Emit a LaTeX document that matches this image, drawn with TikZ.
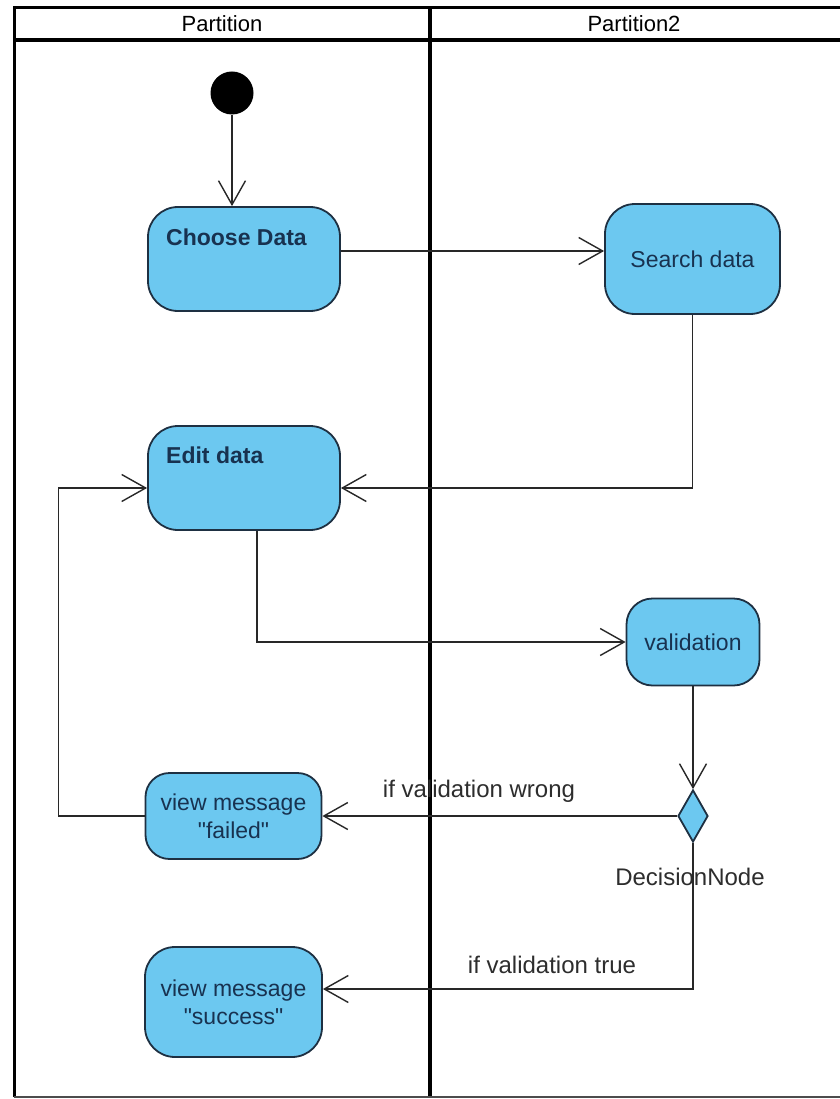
\documentclass[tikz,border=0pt]{standalone}
\usepackage{fontspec}
\setmainfont{Liberation Sans}
% a second family without TeX ligatures keeps straight double quotes
\newfontfamily\actfont{Liberation Sans}
\usetikzlibrary{arrows.meta,shapes.geometric}
\definecolor{actfill}{RGB}{108,200,240}
\definecolor{actline}{RGB}{30,48,66}
\definecolor{acttext}{RGB}{24,50,80}
\definecolor{guardtext}{RGB}{45,45,45}
\definecolor{flowline}{RGB}{40,40,40}
\begin{document}
\begin{tikzpicture}[x=1pt,y=-1pt,
  actbox/.style={draw=actline, fill=actfill, rounded corners=30pt, line width=1.8pt,
    inner sep=0pt, text=acttext, font=\actfont\fontsize{23}{28}\selectfont, align=center},
  boldtext/.style={text=acttext, font=\actfont\fontsize{23}{28}\selectfont\bfseries, inner sep=0pt},
  guard/.style={text=guardtext, font=\actfont\fontsize{24}{28}\selectfont, inner sep=0pt},
  lanehead/.style={text=black, font=\actfont\fontsize{22}{26}\selectfont, inner sep=0pt},
  decision/.style={diamond, draw=actline, fill=actfill, line width=1.8pt, inner sep=0pt,
    minimum width=30pt, minimum height=52pt, aspect=0.58},
  flow/.style={draw=flowline, line width=1.5pt,
    -{Straight Barb[length=24pt,width=27pt,line width=1.4pt]}},
]
\useasboundingbox (0,0) rectangle (839,1099);
\fill[white] (0,0) rectangle (839,1099);

% swimlane frame
\draw[line width=3pt, black] (14,1097) -- (14,8) -- (845,8);
\draw[line width=4pt, black] (14,40) -- (845,40);
\draw[line width=4pt, black] (430,8) -- (430,1097);
\draw[line width=2pt, black!70] (14,1097) -- (845,1097);
\node[lanehead] (lane1) at (222,24) {Partition};
\node[lanehead] (lane2) at (634,24) {Partition2};

% activities
\node[circle, fill=black, inner sep=0pt, minimum size=43pt] (start) at (232,93) {};
\node[actbox, minimum width=192pt, minimum height=104pt] (choose) at (244,259) {};
\node[boldtext, anchor=west] (choosetxt) at (166,237) {Choose Data};
\node[actbox, minimum width=175pt, minimum height=110pt] (search) at (692.5,259) {Search data};
\node[actbox, minimum width=192pt, minimum height=104pt] (edit) at (244,478) {};
\node[boldtext, anchor=west] (edittxt) at (166,455) {Edit data};
\node[actbox, minimum width=133pt, minimum height=87pt, rounded corners=26pt] (valid) at (693,642) {validation};
\node[decision] (dec) at (693,816) {};
\node[guard, anchor=base] (declabel) at (690,885) {DecisionNode};
\node[actbox, minimum width=176pt, minimum height=86pt, rounded corners=24pt] (failed) at (233.5,816) {view message\\"failed"};
\node[actbox, minimum width=177pt, minimum height=110pt] (success) at (233.5,1002) {view message\\"success"};

% control flows
\draw[flow] (start.south) -- (start.south |- choose.north);
\draw[flow] ([yshift=8pt]choose.east) -- ([yshift=8pt]search.west);
\draw[flow] (search.south) |- ([yshift=-10pt]edit.east);
\draw[flow] (failed.west) -- ++(-86,0) |- ([yshift=-10pt]edit.west);
\draw[flow] ([xshift=13pt]edit.south) |- (valid.west);
\draw[flow] (valid.south) -- (dec.north);
\draw[flow] (dec.west) -- (failed.east);
\draw[flow] (dec.south) |- ([yshift=13pt]success.east);

% guards
\node[guard, anchor=base] (gwrong) at (479,797) {if validation wrong};
\node[guard, anchor=base] (gtrue) at (552,973) {if validation true};
\end{tikzpicture}
\end{document}
